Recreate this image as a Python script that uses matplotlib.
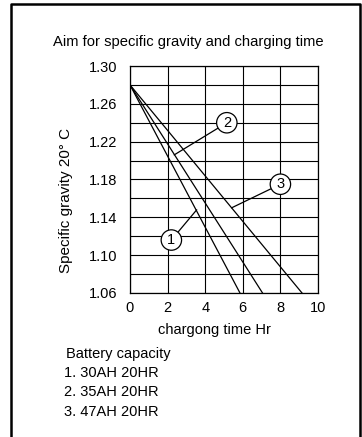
import matplotlib.pyplot as plt

plt.rcParams['font.family'] = ['Liberation Sans', 'DejaVu Sans']

# charge curves: start and end points (time Hr, specific gravity)
series_names = ['1', '2', '3']
start_time = [0, 0, 0]
start_sg = [1.28, 1.28, 1.28]
end_time = [5.85, 7.05, 9.15]
end_sg = [1.06, 1.06, 1.06]

# circled labels: label position and where the leader touches the line
label_xy = [(2.2, 1.116), (5.15, 1.24), (8.0, 1.175)]
leader_xy = [(3.55, 1.148), (2.35, 1.206), (5.4, 1.150)]

x_ticks = [0, 2, 4, 6, 8, 10]
y_ticks = [1.06, 1.10, 1.14, 1.18, 1.22, 1.26, 1.30]
capacities = ['1. 30AH 20HR', '2. 35AH 20HR', '3. 47AH 20HR']

fig = plt.figure(figsize=(3.62, 4.37), dpi=100)
W, H = 362, 437
ax = fig.add_axes([130 / W, 1 - 293 / H, 188 / W, 227 / H])

# grid
for y in [1.06 + 0.02 * i for i in range(13)]:
    ax.axhline(y, color='black', lw=0.8, zorder=1)
for x in x_ticks:
    ax.axvline(x, color='black', lw=0.8, zorder=1)

for i in range(3):
    ax.plot([start_time[i], end_time[i]], [start_sg[i], end_sg[i]], color='black', lw=0.9, zorder=2)
    ax.annotate(series_names[i], xy=leader_xy[i], xytext=label_xy[i],
                ha='center', va='center', fontsize=10.5,
                bbox=dict(boxstyle='circle,pad=0.22', fc='white', ec='black', lw=0.9),
                arrowprops=dict(arrowstyle='-', color='black', lw=0.9, shrinkA=0, shrinkB=0),
                zorder=3)

ax.set_xlim(0, 10)
ax.set_ylim(1.06, 1.30)
ax.set_xticks(x_ticks)
ax.set_yticks(y_ticks)
ax.set_yticklabels(['%.2f' % v for v in y_ticks])
ax.tick_params(axis='y', length=0, labelsize=10.5, pad=9)
ax.tick_params(axis='x', length=0, labelsize=10.5, pad=6)
for s in ax.spines.values():
    s.set_linewidth(0.9)

fig.text(66 / W, 1 - 200 / H, 'Specific gravity 20° C', rotation=90,
         ha='center', va='center', fontsize=11)
fig.text(188 / W, 1 - 42 / H, 'Aim for specific gravity and charging time',
         ha='center', va='center', fontsize=10.6)
fig.text(214 / W, 1 - 330 / H, 'chargong time Hr', ha='center', va='center', fontsize=10.5)
fig.text(66 / W, 1 - 354 / H, 'Battery capacity', ha='left', va='center', fontsize=10.5)
for i, txt in enumerate(capacities):
    fig.text(64 / W, 1 - (373 + 19.5 * i) / H, txt, ha='left', va='center', fontsize=10.5)

# outer frame (open at the bottom)
fig.add_artist(plt.Line2D([11 / W, 11 / W, 360 / W, 360 / W], [0, 1 - 4 / H, 1 - 4 / H, 0],
                          color='black', lw=1.8, transform=fig.transFigure))

fig.savefig('out.png', dpi=100)
